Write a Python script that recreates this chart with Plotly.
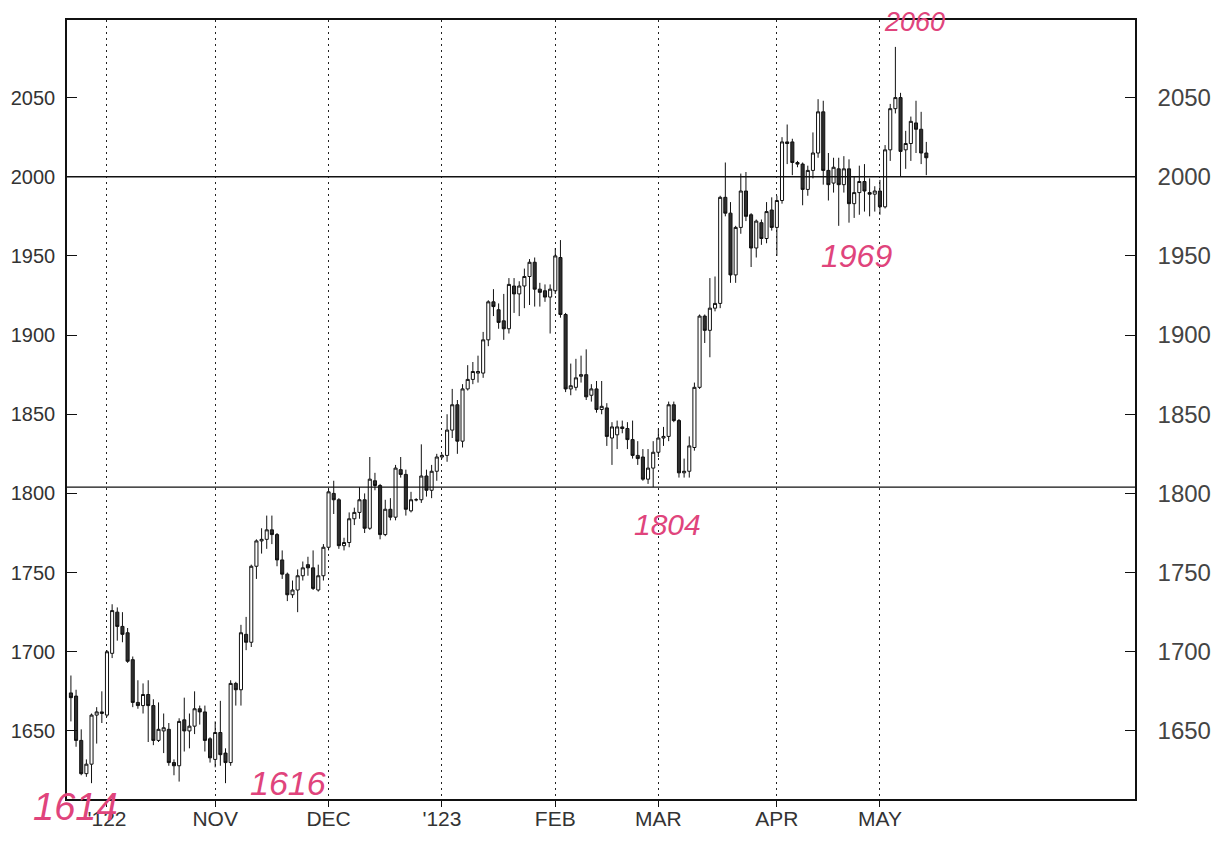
import pandas as pd
import plotly.graph_objects as go

# Trading days (weekdays) from 22 Sep 2022 to 12 May 2023
days = [d.strftime("%Y-%m-%d") for d in pd.bdate_range("2022-09-22", "2023-05-12")]

opens = [1674, 1672, 1644, 1623, 1629, 1660, 1661,
         1660, 1699, 1725, 1716, 1712, 1695, 1668, 1666, 1673, 1666, 1644, 1650, 1651, 1630, 1628,
         1657, 1650, 1653, 1664, 1662, 1645,
         1632, 1649, 1636, 1630, 1680, 1676, 1711, 1706, 1754, 1770, 1771, 1777, 1774, 1758, 1749,
         1736, 1739, 1748, 1755, 1753, 1739, 1748,
         1766, 1800, 1796, 1767, 1769, 1784, 1788, 1796, 1778, 1808, 1805, 1774, 1790, 1785, 1815,
         1812, 1789, 1796, 1796, 1811, 1802, 1814,
         1823, 1824, 1840, 1856, 1833, 1866, 1872, 1876, 1876, 1897, 1921, 1916, 1909, 1904, 1931,
         1926, 1931, 1937, 1946, 1929, 1928, 1924,
         1928, 1949, 1913, 1866, 1867, 1874, 1875, 1862, 1866, 1853, 1854, 1835, 1837, 1842, 1841,
         1834, 1824, 1823, 1809, 1816,
         1826, 1835, 1836, 1856, 1846, 1813, 1814, 1829, 1867, 1912, 1903, 1917, 1920, 1987, 1977,
         1938, 1968, 1991, 1976, 1955, 1971, 1961, 1979,
         1968, 1985, 2022, 2022, 2009, 2008, 1992, 2004, 2015, 2041, 2004, 1996, 2005, 1995, 2005,
         1983, 1990, 1997, 1990, 1989,
         1991, 1981, 2017, 2043, 2050, 2017, 2021, 2034, 2030, 2015]

highs = [1685, 1676, 1651, 1632, 1661, 1665, 1675,
         1701, 1730, 1728, 1725, 1715, 1697, 1682, 1680, 1682, 1670, 1668, 1661, 1655, 1632, 1658,
         1671, 1661, 1675, 1666, 1666, 1646,
         1656, 1669, 1639, 1682, 1681, 1717, 1722, 1755, 1771, 1778, 1786, 1786, 1775, 1764, 1750,
         1745, 1752, 1757, 1760, 1764, 1755, 1768,
         1803, 1808, 1797, 1772, 1788, 1791, 1804, 1800, 1823, 1813, 1806, 1796, 1797, 1818, 1823,
         1815, 1801, 1797, 1831, 1815, 1818, 1825,
         1825, 1850, 1866, 1859, 1869, 1881, 1883, 1887, 1902, 1922, 1929, 1920, 1926, 1936, 1936,
         1934, 1942, 1948, 1949, 1933, 1932, 1932,
         1955, 1960, 1914, 1882, 1885, 1887, 1891, 1869, 1871, 1871, 1857, 1845, 1846, 1846, 1845,
         1846, 1833, 1828, 1828, 1833,
         1841, 1842, 1858, 1858, 1847, 1822, 1836, 1870, 1913, 1913, 1936, 1937, 1988, 2009, 1984,
         1969, 2002, 2003, 1977, 1973, 1973, 1984, 1987,
         1988, 2025, 2033, 2024, 2010, 2009, 2007, 2028, 2049, 2048, 2015, 2012, 2012, 2013, 2011,
         2000, 2007, 2008, 1999, 1994,
         1998, 2020, 2046, 2082, 2053, 2029, 2038, 2048, 2041, 2022]

lows = [1656, 1640, 1622, 1621, 1617, 1642, 1655,
        1659, 1696, 1707, 1706, 1693, 1665, 1664, 1661, 1643, 1641, 1643, 1636, 1628, 1622, 1618,
        1637, 1639, 1648, 1654, 1637, 1630,
        1627, 1628, 1617, 1628, 1666, 1666, 1701, 1703, 1746, 1762, 1765, 1768, 1754, 1746, 1732,
        1734, 1725, 1745, 1748, 1739, 1738, 1745,
        1764, 1787, 1765, 1764, 1766, 1780, 1784, 1775, 1777, 1802, 1771, 1773, 1783, 1783, 1810,
        1786, 1788, 1795, 1794, 1798, 1797, 1808,
        1822, 1820, 1835, 1825, 1829, 1865, 1869, 1870, 1873, 1893, 1912, 1904, 1897, 1901, 1914,
        1912, 1917, 1919, 1918, 1918, 1921, 1901,
        1926, 1911, 1864, 1862, 1865, 1870, 1859, 1858, 1851, 1850, 1830, 1818, 1828, 1838, 1828,
        1822, 1818, 1808, 1806, 1804,
        1823, 1830, 1833, 1845, 1810, 1810, 1810, 1827, 1866, 1895, 1886, 1915, 1917, 1975, 1933,
        1933, 1964, 1972, 1943, 1949, 1957, 1958, 1966,
        1950, 1983, 2008, 2001, 2006, 1982, 1988, 1999, 2012, 1995, 1985, 1990, 1969, 1990, 1971,
        1974, 1976, 1978, 1975, 1978,
        1976, 1980, 2010, 2040, 2000, 2005, 2010, 2015, 2008, 2001]

closes = [1671, 1644, 1623, 1629, 1660, 1662, 1662,
          1700, 1726, 1716, 1711, 1694, 1668, 1666, 1673, 1666, 1644, 1651, 1652, 1630, 1628, 1656,
          1650, 1653, 1664, 1662, 1644, 1633,
          1649, 1635, 1630, 1680, 1676, 1712, 1706, 1754, 1770, 1771, 1777, 1774, 1758, 1749, 1736,
          1739, 1748, 1753, 1753, 1740, 1748, 1766,
          1801, 1796, 1767, 1769, 1784, 1788, 1796, 1778, 1809, 1805, 1774, 1790, 1785, 1816, 1812,
          1790, 1796, 1796, 1811, 1802, 1814, 1823,
          1824, 1840, 1856, 1833, 1866, 1872, 1877, 1877, 1897, 1921, 1918, 1908, 1904, 1932, 1926,
          1931, 1937, 1946, 1929, 1927, 1924, 1929,
          1950, 1913, 1866, 1868, 1873, 1875, 1861, 1866, 1853, 1855, 1836, 1842, 1842, 1841, 1834,
          1824, 1822, 1809, 1816, 1826,
          1835, 1836, 1856, 1846, 1813, 1814, 1830, 1867, 1912, 1903, 1917, 1920, 1987, 1977, 1938,
          1968, 1991, 1975, 1955, 1972, 1961, 1978, 1968,
          1985, 2022, 2021, 2009, 2008, 1992, 2004, 2015, 2041, 2004, 1995, 2006, 1995, 2005, 1983,
          1990, 1997, 1991, 1989, 1991,
          1981, 2017, 2043, 2050, 2016, 2021, 2035, 2030, 2015, 2012]

month_days = ["2022-10-03", "2022-11-01", "2022-12-01", "2023-01-02",
              "2023-02-01", "2023-03-01", "2023-04-03", "2023-05-01"]
month_labels = ["'122", "NOV", "DEC", "'123", "FEB", "MAR", "APR", "MAY"]

y_ticks = [1650, 1700, 1750, 1800, 1850, 1900, 1950, 2000, 2050]
levels = [1804, 2000]

notes = ["1614", "1616", "1804", "1969", "2060"]
note_x = [0.0084, 0.2069, 0.5627, 0.7397, 0.7940]
note_y = [-0.010, 0.0205, 0.353, 0.697, 0.998]
note_size = [38, 34, 30, 32, 27]

fig = go.Figure()
fig.add_trace(go.Candlestick(
    x=days, open=opens, high=highs, low=lows, close=closes,
    increasing=dict(line=dict(color="#111111", width=1), fillcolor="white"),
    decreasing=dict(line=dict(color="#111111", width=1), fillcolor="#2e2e2e"),
    whiskerwidth=0, showlegend=False, hoverinfo="skip",
))
fig.add_trace(go.Scatter(x=days, y=closes, yaxis="y2", mode="lines",
                         line=dict(width=0, color="rgba(0,0,0,0)"),
                         showlegend=False, hoverinfo="skip"))

for lv in levels:
    fig.add_shape(type="line", xref="paper", x0=0, x1=1, yref="y", y0=lv, y1=lv,
                  line=dict(color="#111111", width=1.3))

for t, x, y, s in zip(notes, note_x, note_y, note_size):
    fig.add_annotation(text=t, xref="paper", yref="paper", x=x, y=y,
                       showarrow=False, xanchor="center", yanchor="middle",
                       font=dict(family="Liberation Sans", size=s,
                                 color="#e0447c", style="italic"))

label_font = "Liberation Sans"
yr = [1607, 2099]
# the page body has an 8px margin, so the figure is 16px smaller than the window
fig.update_layout(
    width=1207, height=827, autosize=False,
    margin=dict(l=59, r=80, t=12, b=36),
    paper_bgcolor="white", plot_bgcolor="white",
    showlegend=False, boxgap=0.15,
    xaxis=dict(type="category", range=[-0.76, 206.5], automargin=False,
               tickmode="array", tickvals=month_days, ticktext=month_labels,
               showgrid=True, gridcolor="#222222", gridwidth=1, griddash="2px,4px",
               ticks="outside", ticklen=6, tickcolor="#111111",
               showline=True, linecolor="#111111", linewidth=1.5, mirror=True,
               rangeslider=dict(visible=False), ticklabelstandoff=-6,
               tickfont=dict(family=label_font, size=21, color="#333333")),
    yaxis=dict(range=yr, tickmode="array", tickvals=y_ticks, automargin=False,
               showgrid=False, zeroline=False,
               ticks="inside", ticklen=10, tickcolor="#111111",
               showline=True, linecolor="#111111", linewidth=1.5,
               ticklabelstandoff=6,
               tickfont=dict(family=label_font, size=20, color="#333333")),
    yaxis2=dict(range=yr, tickmode="array", tickvals=y_ticks, overlaying="y", side="right",
                automargin=False, showgrid=False, zeroline=False,
                ticks="inside", ticklen=10, tickcolor="#111111",
                showline=True, linecolor="#111111", linewidth=1.5,
                ticklabelstandoff=16,
                tickfont=dict(family=label_font, size=24, color="#444444")),
)

fig.write_html("out.html")
